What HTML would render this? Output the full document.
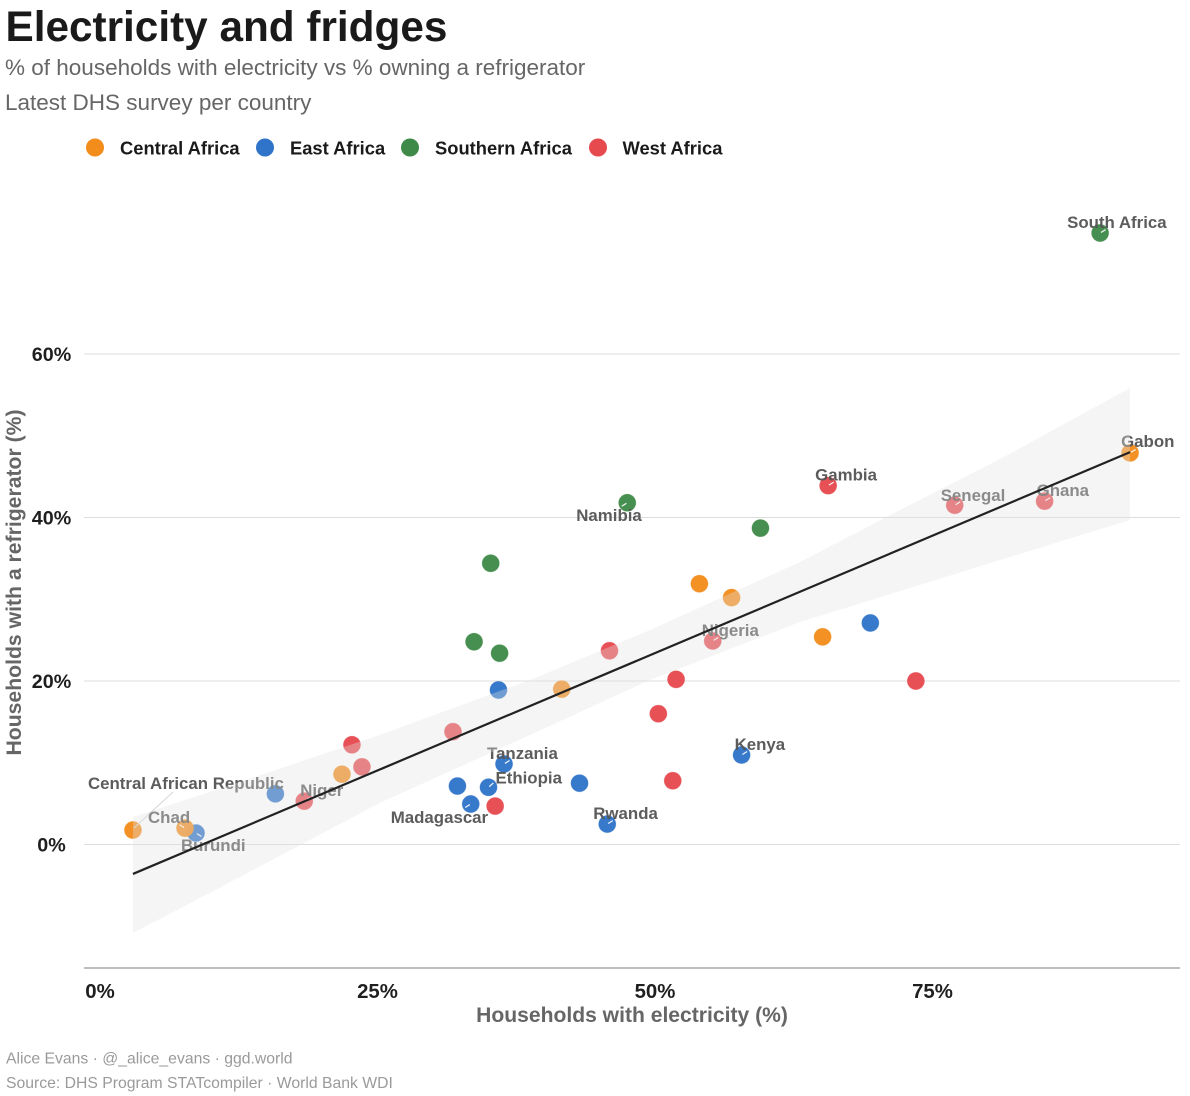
<!DOCTYPE html>
<html lang="en">
<head>
<meta charset="utf-8">
<title>Electricity and fridges</title>
<style>
html,body{margin:0;padding:0;background:#fff;}
svg{display:block;font-family:"Liberation Sans",Arial,sans-serif;}
</style>
</head>
<body>
<svg id="chart" xmlns="http://www.w3.org/2000/svg" width="1190" height="1096" viewBox="0 0 1190 1096">
  <rect x="0" y="0" width="1190" height="1096" fill="#ffffff"/>
  <text x="5.5" y="41" font-size="42.3" font-weight="700" fill="#1a1a1a">Electricity and fridges</text>
  <text x="5" y="75" font-size="22.5" fill="#666666">% of households with electricity vs % owning a refrigerator</text>
  <text x="5" y="110" font-size="22.5" fill="#666666">Latest DHS survey per country</text>
  <g>
    <g>
      <circle cx="95" cy="147.5" r="9" fill="#f28c1b"/>
      <text x="120" y="154.5" font-size="18.35" font-weight="700" fill="#1a1a1a">Central Africa</text>
    </g>
    <g>
      <circle cx="265" cy="147.5" r="9" fill="#2f74c9"/>
      <text x="290" y="154.5" font-size="18.35" font-weight="700" fill="#1a1a1a">East Africa</text>
    </g>
    <g>
      <circle cx="410" cy="147.5" r="9" fill="#3f8a49"/>
      <text x="435" y="154.5" font-size="18.35" font-weight="700" fill="#1a1a1a">Southern Africa</text>
    </g>
    <g>
      <circle cx="598" cy="147.5" r="9" fill="#e64a4f"/>
      <text x="622.5" y="154.5" font-size="18.35" font-weight="700" fill="#1a1a1a">West Africa</text>
    </g>
  </g>
  <g id="grid"></g>
  <g id="ticks"></g>
  <line x1="84" x2="1180" y1="968" y2="968" stroke="#aaaaaa" stroke-width="1.6"/>
  <g id="points"></g>
  <g id="labels"></g>
  <g id="trend"></g>
  <text x="632" y="1022" text-anchor="middle" font-size="21.1" font-weight="700" fill="#666666">Households with electricity (%)</text>
  <text transform="translate(21,582.5) rotate(-90)" text-anchor="middle" font-size="21.2" font-weight="700" fill="#666666">Households with a refrigerator (%)</text>
  <text x="6" y="1063.5" font-size="15.75" fill="#9a9a9a">Alice Evans · @_alice_evans · ggd.world</text>
  <text x="6" y="1088" font-size="15.75" fill="#9a9a9a">Source: DHS Program STATcompiler · World Bank WDI</text>
</svg>
<script>
// Chart data: share of households (%)
const centralElectricity = [2.97, 7.66, 21.8, 41.6, 54.0, 56.9, 65.1, 92.8];
const centralFridge      = [1.77, 2.0, 8.6, 19.0, 31.9, 30.2, 25.4, 47.9];
const centralNames       = ['Central African Republic', 'Chad', '', '', '', '', '', 'Gabon'];

const eastElectricity = [8.65, 15.8, 35.9, 36.4, 32.2, 35.0, 33.4, 43.2, 45.7, 57.8, 69.4];
const eastFridge      = [1.4, 6.2, 18.9, 9.85, 7.15, 7.0, 4.95, 7.5, 2.5, 10.95, 27.1];
const eastNames       = ['Burundi', '', '', 'Tanzania', '', 'Ethiopia', 'Madagascar', '', 'Rwanda', 'Kenya', ''];

const southernElectricity = [90.1, 47.5, 59.5, 35.2, 33.7, 36.0];
const southernFridge      = [74.8, 41.8, 38.7, 34.4, 24.8, 23.4];
const southernNames       = ['South Africa', 'Namibia', '', '', '', ''];

const westElectricity = [65.6, 77.0, 85.1, 55.2, 45.9, 51.9, 50.3, 73.5, 51.6, 35.6, 18.4, 22.7, 23.6, 31.8];
const westFridge      = [43.9, 41.5, 42.0, 24.9, 23.7, 20.2, 16.0, 20.0, 7.8, 4.7, 5.3, 12.2, 9.5, 13.8];
const westNames       = ['Gambia', 'Senegal', 'Ghana', 'Nigeria', '', '', '', '', '', '', 'Niger', '', '', ''];

const xTickValues = [0, 25, 50, 75];
const yTickValues = [0, 20, 40, 60];

const trendElectricity = [2.97, 92.8];
const trendFridge      = [-3.6, 48.0];

const bandElectricity = [2.97, 11.26, 25.2, 38.74, 49.55, 63.06, 72.07, 81.08, 92.79];
const bandUpper       = [3.36, 7.03, 13.39, 20.12, 26.24, 34.56, 40.92, 47.16, 55.84];
const bandLower       = [-10.83, -4.94, 5.08, 13.39, 20.12, 27.22, 31.0, 34.8, 39.69];

// Axis functions
function xScale(v) { return 100 + 11.1 * v; }
function yScale(v) { return 844.5 - 8.175 * v; }

// Label placement relative to its point: text offset and leader direction (layout, not data)
const labelLayout = {
  'South Africa': [-33, -5, 0.85, -0.53], 'Gabon': [-9, -6, 0.85, -0.53], 'Ghana': [-8, -5, 0.85, -0.53],
  'Senegal': [-14, -4, 0.85, -0.53], 'Gambia': [-13, -5, 0.85, -0.53], 'Namibia': [-51, 18, -0.85, 0.53],
  'Nigeria': [-11, -5, 0.85, -0.53], 'Kenya': [-7, -5, 0.85, -0.53], 'Tanzania': [-17, -5, 0.85, -0.53],
  'Ethiopia': [7, -4, 0.75, -0.66], 'Rwanda': [-14, -5, 0.85, -0.53], 'Madagascar': [-80, 19, -0.85, 0.53],
  'Central African Republic': [-45, -41, 0.7, -0.7], 'Chad': [-37, -5, -0.85, -0.53],
  'Burundi': [-15, 18, 0.85, 0.53], 'Niger': [-4, -5, 0.85, -0.53]
};

const NS = 'http://www.w3.org/2000/svg';
function make(tag, attrs, parent) {
  const el = document.createElementNS(NS, tag);
  for (const k in attrs) el.setAttribute(k, attrs[k]);
  parent.appendChild(el);
  return el;
}
function slug(s) { return s.toLowerCase().replace(/[^a-z0-9]+/g, '-'); }

const gridG = document.getElementById('grid');
const ticksG = document.getElementById('ticks');
const pointsG = document.getElementById('points');
const labelsG = document.getElementById('labels');
const trendG = document.getElementById('trend');

yTickValues.forEach(function (v) {
  const gl = make('line', { x1: 84, x2: 1180, y1: yScale(v), y2: yScale(v), stroke: '#dddddd', 'stroke-width': 1 }, gridG);
  
  
  const t = make('text', { x: 51.5, y: yScale(v) + 7, 'text-anchor': 'middle', 'font-size': 19.7, 'font-weight': 700, fill: '#1f1f1f' }, ticksG);
  t.textContent = v + '%';
  
  
});

xTickValues.forEach(function (v) {
  const t = make('text', { x: xScale(v), y: 998, 'text-anchor': 'middle', 'font-size': 20.4, 'font-weight': 700, fill: '#1f1f1f' }, ticksG);
  t.textContent = v + '%';
  
  
});

function drawRegion(regionKey, color, xs, ys, names) {
  xs.forEach(function (xv, i) {
    const px = xScale(xv);
    const py = yScale(ys[i]);
    const c = make('circle', { cx: px, cy: py, r: 8.6, fill: color, 'fill-opacity': 0.96, stroke: color, 'stroke-opacity': 0.35, 'stroke-width': 0.8 }, pointsG);
    
    
    if (!names[i]) return;
    const off = labelLayout[names[i]];
    if (names[i] === 'Central African Republic') {
      const lead = make('line', { x1: px + 1, y1: py - 2, x2: px + 40, y2: py - 38, stroke: '#d8d8d8', 'stroke-width': 1.1 }, pointsG);
      
      
    } else {
      const tick = make('line', { x1: px + 1 * off[2], y1: py + 1 * off[3], x2: px + 6.5 * off[2], y2: py + 6.5 * off[3], stroke: '#ffffff', 'stroke-opacity': 0.92, 'stroke-width': 1.2 }, pointsG);
      
      
    }
    const t = make('text', { x: px + off[0], y: py + off[1], 'font-size': 16.85, 'font-weight': 700, fill: '#555555', 'fill-opacity': 0.96 }, labelsG);
    t.textContent = names[i];
    
    
  });
}

drawRegion('east', '#2f74c9', eastElectricity, eastFridge, eastNames);
drawRegion('central', '#f28c1b', centralElectricity, centralFridge, centralNames);
drawRegion('southern', '#3f8a49', southernElectricity, southernFridge, southernNames);
drawRegion('west', '#e64a4f', westElectricity, westFridge, westNames);

// Confidence band sits over points and labels, fading them
let bandPath = '';
bandElectricity.forEach(function (xv, i) {
  bandPath += (i === 0 ? 'M' : 'L') + xScale(xv).toFixed(1) + ',' + yScale(bandUpper[i]).toFixed(1);
});
for (let i = bandElectricity.length - 1; i >= 0; i--) {
  bandPath += 'L' + xScale(bandElectricity[i]).toFixed(1) + ',' + yScale(bandLower[i]).toFixed(1);
}
const band = make('path', { d: bandPath + 'Z', fill: 'rgb(226,226,226)', 'fill-opacity': 0.35 }, trendG);



const trendLine = make('line', {
  x1: xScale(trendElectricity[0]), y1: yScale(trendFridge[0]),
  x2: xScale(trendElectricity[1]), y2: yScale(trendFridge[1]),
  stroke: '#222222', 'stroke-width': 2.2
}, trendG);


</script>
</body>
</html>
